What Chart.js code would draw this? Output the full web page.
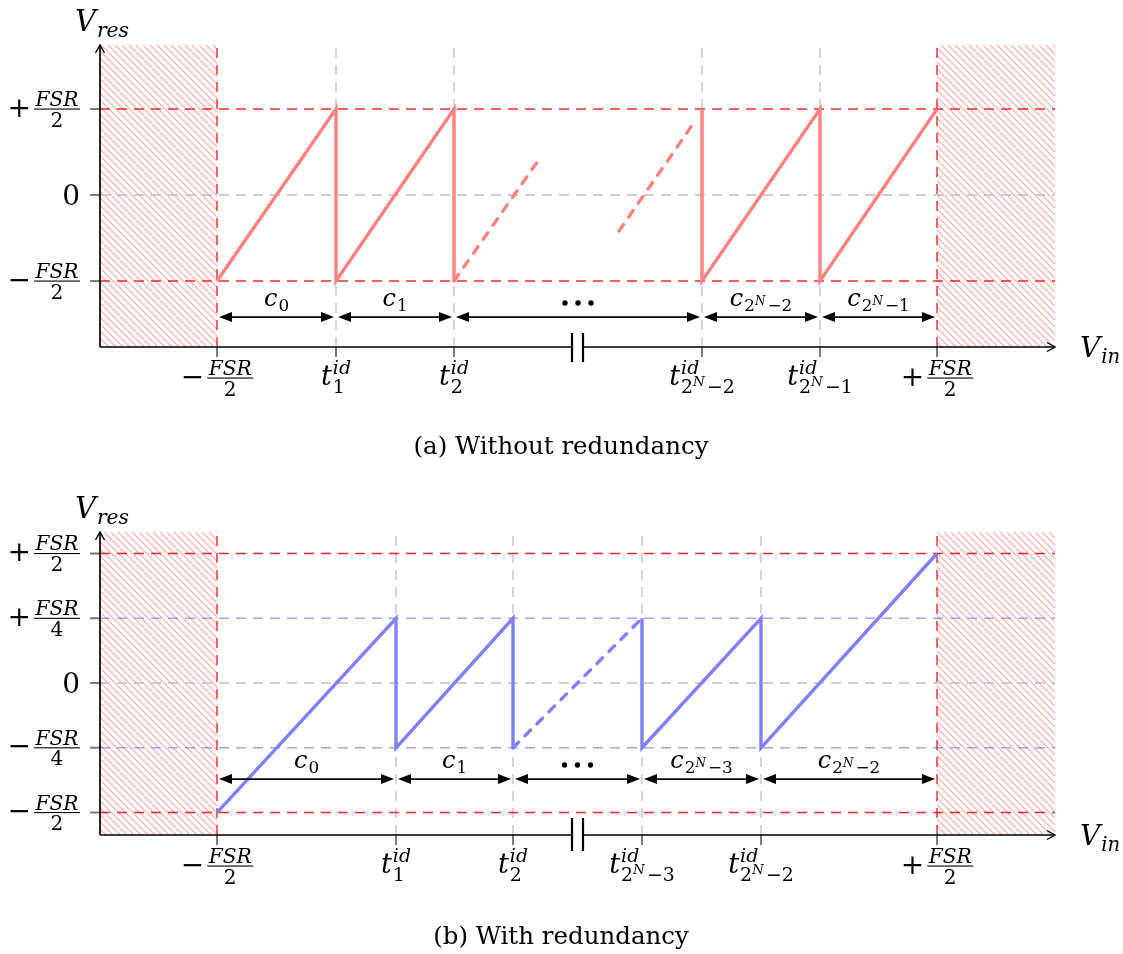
<!DOCTYPE html>
<html>
<head>
<meta charset="utf-8">
<script src="https://cdn.jsdelivr.net/npm/chart.js@4.4.1/dist/chart.umd.min.js"></script>
<style>
  body { margin: 0; background: #fff; }
  #wrap { position: relative; width: 1123px; height: 954px; }
  canvas { position: absolute; left: 0; }
  #topChart { top: 0; }
  #botChart { top: 470px; }
</style>
</head>
<body>
<div id="wrap">
  <canvas id="topChart" width="1123" height="470"></canvas>
  <canvas id="botChart" width="1123" height="484"></canvas>
</div>
<script>
// x is measured along the input axis from the y-axis, y is in FSR/2 units (top) and FSR/4 units (bottom)
var xEnd = 955;
var breakX = [472, 483];

// (a) without redundancy
var topTicksX = [117, 236, 354, 602, 720, 837];
var topTickLabels = ['−FSR/2', 't^id_1', 't^id_2', 't^id_2^N−2', 't^id_2^N−1', '+FSR/2'];
var topCodeLabels = ['c_0', 'c_1', '...', 'c_2^N−2', 'c_2^N−1'];
var topLevels = [-1, 0, 1];
var topLevelLabels = ['−FSR/2', '0', '+FSR/2'];
var topSawLeftX = [117, 236, 236, 354, 354];
var topSawLeftY = [-1, 1, -1, 1, -1];
var topSawRightX = [602, 602, 720, 720, 837];
var topSawRightY = [1, -1, 1, -1, 1];
var topDashAX = [354, 437];
var topDashAY = [-1, 0.38];
var topDashBX = [519, 595];
var topDashBY = [-0.42, 0.86];

// (b) with redundancy
var botTicksX = [117, 296, 413, 542, 661, 837];
var botTickLabels = ['−FSR/2', 't^id_1', 't^id_2', 't^id_2^N−3', 't^id_2^N−2', '+FSR/2'];
var botCodeLabels = ['c_0', 'c_1', '...', 'c_2^N−3', 'c_2^N−2'];
var botLevels = [-2, -1, 0, 1, 2];
var botLevelLabels = ['−FSR/2', '−FSR/4', '0', '+FSR/4', '+FSR/2'];
var botSawLeftX = [117, 296, 296, 413, 413];
var botSawLeftY = [-2, 1, -1, 1, -1];
var botSawRightX = [542, 542, 661, 661, 837];
var botSawRightY = [1, -1, 1, -1, 2];
var botDashX = [413, 542];
var botDashY = [-1, 1];

var MF = '"DejaVu Serif", "Liberation Serif", serif';

function pts(xs, ys) {
  return xs.map(function (x, i) { return { x: x, y: ys[i] }; });
}

function isUp(ch) { return /[0-9+\u2212()=]/.test(ch); }
function setF(ctx, ch, size) { ctx.font = (isUp(ch) ? '' : 'italic ') + size + 'px ' + MF; }
function runW(ctx, s, size) {
  var w = 0;
  for (var ch of s) { setF(ctx, ch, size); w += ctx.measureText(ch).width; }
  return w;
}
function runD(ctx, s, x, y, size) {
  for (var ch of s) { setF(ctx, ch, size); ctx.fillText(ch, x, y); x += ctx.measureText(ch).width; }
  return x;
}

// base^sup_sub, where sub may itself be 2^N-k
function drawScript(ctx, s, x, y, S, align) {
  var m = s.match(/^([^_^]+)(?:\^([^_]+))?(?:_(.+))?$/);
  var base = m[1], sup = m[2], sub = m[3];
  var s1 = S * 0.7, s2 = S * 0.5;
  var bw = runW(ctx, base, S);
  var supW = sup ? runW(ctx, sup, s1) : 0;
  var subParts = null, subW = 0;
  if (sub) {
    var sm = sub.match(/^(\d)\^N(.*)$/);
    if (sm) {
      subParts = sm;
      subW = runW(ctx, sm[1], s1) + runW(ctx, 'N', s2) + 2 + runW(ctx, sm[2], s1);
    } else subW = runW(ctx, sub, s1);
  }
  var tw = bw + Math.max(supW, subW) + 1;
  var x0 = align === 'center' ? x - tw / 2 : align === 'right' ? x - tw : x;
  runD(ctx, base, x0, y, S);
  var xs = x0 + bw + 1;
  if (sup) runD(ctx, sup, xs, y - 0.42 * S, s1);
  if (sub) {
    var dy = sup ? 0.3 * S : 0.22 * S;
    if (subParts) {
      var xx = runD(ctx, subParts[1], xs, y + dy, s1);
      xx = runD(ctx, 'N', xx, y + dy - 0.26 * S, s2);
      runD(ctx, subParts[2], xx + 2, y + dy, s1);
    } else runD(ctx, sub, xs, y + dy, s1);
  }
}

// sign num/den fraction, yBar is the fraction bar
function drawFrac(ctx, s, x, yBar, S, align) {
  var m = s.match(/^([+\u2212]?)(\w+)\/(\w+)$/);
  var fs = S * 0.72;
  var sw = runW(ctx, m[1], S) + 3;
  var nw = runW(ctx, m[2], fs), dw = runW(ctx, m[3], fs);
  var fw = Math.max(nw, dw) + 3;
  var tw = sw + fw;
  var x0 = align === 'center' ? x - tw / 2 : align === 'right' ? x - tw : x;
  runD(ctx, m[1], x0, yBar + 0.27 * S, S);
  var xf = x0 + sw;
  runD(ctx, m[2], xf + (fw - nw) / 2, yBar - 3, fs);
  runD(ctx, m[3], xf + (fw - dw) / 2, yBar + 3 + 0.73 * fs, fs);
  ctx.fillRect(xf, yBar - 0.5, fw, 1.1);
}

function drawLabel(ctx, s, x, y, S, align) {
  if (s.indexOf('/') >= 0) drawFrac(ctx, s, x, y, S, align);
  else if (s === '0') {
    ctx.font = S + 'px ' + MF;
    var w = ctx.measureText('0').width;
    ctx.fillText('0', align === 'right' ? x - w : x - w / 2, y + 0.36 * S);
  } else drawScript(ctx, s, x, y, S, align);
}

function headFill(ctx, x, y, dir) {
  ctx.beginPath();
  ctx.moveTo(x, y);
  ctx.lineTo(x - dir * 13, y - 5);
  ctx.lineTo(x - dir * 13, y + 5);
  ctx.closePath();
  ctx.fill();
}

function hatchPattern(ctx) {
  var c = document.createElement('canvas');
  c.width = 7; c.height = 7;
  var g = c.getContext('2d');
  g.strokeStyle = '#ffa6a6';
  g.lineWidth = 1.1;
  g.beginPath();
  g.moveTo(-1, -1); g.lineTo(8, 8);
  g.moveTo(-1, 6); g.lineTo(1, 8);
  g.moveTo(6, -1); g.lineTo(8, 1);
  g.stroke();
  return ctx.createPattern(c, 'repeat');
}

function line(data, color, width, dash) {
  return {
    data: data, showLine: true, borderColor: color, borderWidth: width,
    borderDash: dash || [], borderCapStyle: dash && width > 2 ? 'round' : 'butt',
    pointRadius: 0, fill: false, clip: false, tension: 0
  };
}

function makeChart(id, c) {
  var ctx = document.getElementById(id).getContext('2d');
  var lo = c.ticksX[0], hi = c.ticksX[c.ticksX.length - 1];
  var sets = [];
  c.saw.forEach(function (d) { sets.push(line(d, c.sawColor, 3.4)); });
  c.dash.forEach(function (d) { sets.push(line(d, c.sawColor, 3.4, [8, 9])); });
  c.levels.forEach(function (v) {
    var col = v === 0 ? '#bdbdbd' : Math.abs(v) === c.edge ? 'rgba(255,0,0,0.85)' : 'rgba(70,70,255,0.5)';
    sets.push(line([{ x: 0, y: v }, { x: xEnd, y: v }], col, 1.4, [10, 7]));
  });
  c.ticksX.forEach(function (t, i) {
    var edge = i === 0 || i === c.ticksX.length - 1;
    sets.push(line([{ x: t, y: c.yMin }, { x: t, y: c.yMax }], edge ? 'rgba(255,0,0,0.85)' : '#c4c4c4', 1.4, [10, 7]));
  });

  var deco = {
    id: 'deco',
    beforeDatasetsDraw: function (chart) {
      var g = chart.ctx, a = chart.chartArea, X = chart.scales.x;
      g.save();
      g.fillStyle = hatchPattern(g);
      g.fillRect(X.getPixelForValue(0), a.top, X.getPixelForValue(lo) - X.getPixelForValue(0), a.bottom - a.top);
      g.fillRect(X.getPixelForValue(hi), a.top, X.getPixelForValue(xEnd) - X.getPixelForValue(hi), a.bottom - a.top);
      g.restore();
    },
    afterDatasetsDraw: function (chart) {
      var g = chart.ctx, a = chart.chartArea, X = chart.scales.x, Y = chart.scales.y;
      var x0 = a.left, yb = a.bottom;
      g.save();
      // ticks
      g.strokeStyle = '#7a7a7a'; g.lineWidth = 2;
      g.beginPath();
      c.levels.forEach(function (v) { var y = Y.getPixelForValue(v); g.moveTo(x0 - 10, y); g.lineTo(x0, y); });
      c.ticksX.forEach(function (t) { var x = X.getPixelForValue(t); g.moveTo(x, yb); g.lineTo(x, yb + 10); });
      g.stroke();
      // axes
      g.strokeStyle = '#000'; g.lineWidth = 1.7;
      var b1 = X.getPixelForValue(breakX[0]), b2 = X.getPixelForValue(breakX[1]), xr = X.getPixelForValue(xEnd);
      g.beginPath();
      g.moveTo(x0, yb); g.lineTo(b1, yb);
      g.moveTo(b2, yb); g.lineTo(xr, yb);
      g.moveTo(x0, yb); g.lineTo(x0, a.top);
      g.stroke();
      g.lineWidth = 1.4;
      g.beginPath();
      g.moveTo(xr - 8, yb - 4.5); g.lineTo(xr, yb); g.lineTo(xr - 8, yb + 4.5);
      g.moveTo(x0 - 4.5, a.top + 8); g.lineTo(x0, a.top); g.lineTo(x0 + 4.5, a.top + 8);
      g.stroke();
      g.lineWidth = 2.2;
      g.beginPath();
      g.moveTo(b1, yb - c.brk[0]); g.lineTo(b1, yb + c.brk[1]);
      g.moveTo(b2, yb - c.brk[0]); g.lineTo(b2, yb + c.brk[1]);
      g.stroke();
      // code-width arrows
      var ya = Y.getPixelForValue(c.arrowY);
      g.fillStyle = '#000'; g.lineWidth = 1.8;
      for (var i = 0; i < c.ticksX.length - 1; i++) {
        var xa = X.getPixelForValue(c.ticksX[i]) + 2, xb = X.getPixelForValue(c.ticksX[i + 1]) - 2;
        g.beginPath(); g.moveTo(xa + 4, ya); g.lineTo(xb - 4, ya); g.stroke();
        headFill(g, xa, ya, -1);
        headFill(g, xb, ya, 1);
        var xm = (xa + xb) / 2;
        if (c.codes[i] === '...') {
          [-13, 0, 13].forEach(function (d) { g.beginPath(); g.arc(xm + d, ya - 14, 2.7, 0, Math.PI * 2); g.fill(); });
        } else drawScript(g, c.codes[i], xm, ya - 11, 24, 'center');
      }
      // tick labels
      c.levels.forEach(function (v, i) { drawLabel(g, c.levelLabels[i], x0 - 20, Y.getPixelForValue(v), 28, 'right'); });
      c.ticksX.forEach(function (t, i) {
        var s = c.tickLabels[i], x = X.getPixelForValue(t);
        if (s.indexOf('/') >= 0) drawFrac(g, s, x, yb + 31, 28, 'center');
        else drawScript(g, s, x, yb + 38, 27, 'center');
      });
      // axis names
      drawScript(g, 'V_res', x0 + 2, a.top - 14, 29, 'center');
      drawScript(g, 'V_in', xr + 25, yb + 10, 28, 'left');
      // caption
      g.font = '24.5px ' + MF;
      g.textAlign = 'center';
      g.fillText(c.caption, 561, c.captionY);
      g.restore();
    }
  };

  return new Chart(ctx, {
    type: 'scatter',
    data: { datasets: sets },
    options: {
      responsive: false,
      animation: false,
      events: [],
      layout: { padding: c.pad },
      scales: {
        x: { type: 'linear', min: 0, max: xEnd, display: false },
        y: { type: 'linear', min: c.yMin, max: c.yMax, display: false }
      },
      plugins: { legend: { display: false }, tooltip: { enabled: false } }
    },
    plugins: [deco]
  });
}

makeChart('topChart', {
  ticksX: topTicksX, tickLabels: topTickLabels, codes: topCodeLabels,
  levels: topLevels, levelLabels: topLevelLabels, edge: 1,
  saw: [pts(topSawLeftX, topSawLeftY), pts(topSawRightX, topSawRightY)],
  dash: [pts(topDashAX, topDashAY), pts(topDashBX, topDashBY)],
  sawColor: '#ff8080', yMin: -1.767, yMax: 1.744, arrowY: -1.419,
  pad: { left: 100, right: 68, top: 45, bottom: 123 }, brk: [14, 15],
  caption: '(a) Without redundancy', captionY: 454
});

makeChart('botChart', {
  ticksX: botTicksX, tickLabels: botTickLabels, codes: botCodeLabels,
  levels: botLevels, levelLabels: botLevelLabels, edge: 2,
  saw: [pts(botSawLeftX, botSawLeftY), pts(botSawRightX, botSawRightY)],
  dash: [pts(botDashX, botDashY)],
  sawColor: '#8080ff', yMin: -2.347, yMax: 2.332, arrowY: -1.483,
  pad: { left: 100, right: 68, top: 62, bottom: 119 }, brk: [17, 16],
  caption: '(b) With redundancy', captionY: 474
});
</script>
</body>
</html>
